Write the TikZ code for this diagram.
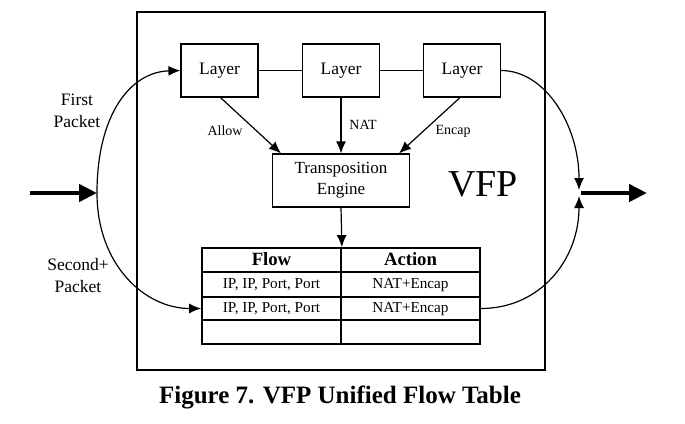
\documentclass[tikz,border=0pt]{standalone}
\usepackage{fontspec}
\setmainfont{Liberation Serif}
\usetikzlibrary{arrows.meta, positioning}

\tikzset{
  >={Latex[length=12pt,width=10pt]},
  layerbox/.style={draw, line width=1.2pt, minimum width=77pt, minimum height=53pt, font=\fontsize{17.5}{20}\selectfont},
  cell/.style={draw, line width=1.8pt, minimum width=139pt, text height=10.5pt, text depth=2.5pt, font=\fontsize{15.2}{17}\selectfont},
  headcell/.style={cell, minimum height=24pt, text height=12.5pt, text depth=2pt, font=\bfseries\fontsize{18.7}{20}\selectfont},
  lbl/.style={font=\fontsize{14}{16}\selectfont},
  bigarrow/.style={line width=4.5pt, -{Triangle[length=18pt,width=17pt]}},
}

\begin{document}
\begin{tikzpicture}[x=1pt, y=-1pt]
  \useasboundingbox (0,0) rectangle (685,423);

  % outer box
  \node[draw, line width=1.4pt, minimum width=408pt, minimum height=358pt] (vfpbox) at (341,191) {};
  \node[font=\fontsize{38}{40}\selectfont] (vfp) at (483,184) {VFP};

  % layers
  \node[layerbox] (layer1) at (219.5,70.5) {Layer};
  \node[layerbox] (layer2) at (341,70.5) {Layer};
  \node[layerbox] (layer3) at (462,70.5) {Layer};
  \node[layerbox, minimum width=137pt, align=center, font=\fontsize{17}{21}\selectfont] (engine) at (341,180.5) {Transposition\\Engine};

  \draw[line width=1.2pt] (layer1.east) -- (layer2.west);
  \draw[line width=1.2pt] (layer2.east) -- (layer3.west);
  \draw[->, line width=1.2pt] ([xshift=1pt]layer1.south) -- ([xshift=-60pt]engine.north);
  \draw[->, line width=1.2pt] (layer2.south) -- (engine.north);
  \draw[->, line width=1.2pt] ([xshift=-2pt]layer3.south) -- ([xshift=58pt]engine.north);

  \node[lbl] (allow) at (225,131) {Allow};
  \node[lbl] (nat) at (363,125) {NAT};
  \node[lbl] (encap) at (453,131) {Encap};

  % flow table
  \node[headcell] (hflow) at (271.5,260) {Flow};
  \node[headcell] (hact) at (410.5,260) {Action};
  \node[cell, minimum height=25pt] (r1flow) at (271.5,284.5) {IP, IP, Port, Port};
  \node[cell, minimum height=25pt] (r1act) at (410.5,284.5) {NAT+Encap};
  \node[cell, minimum height=23pt] (r2flow) at (271.5,308.5) {IP, IP, Port, Port};
  \node[cell, minimum height=23pt] (r2act) at (410.5,308.5) {NAT+Encap};
  \node[cell, minimum height=24pt] (r3flow) at (271.5,332) {};
  \node[cell, minimum height=24pt] (r3act) at (410.5,332) {};

  \draw[->, line width=1.2pt] (engine.south) -- (hflow.north east);

  % packet paths
  \coordinate (split) at (97,193);
  \draw[bigarrow] (30,193) -- (split);
  \draw[bigarrow] (581,193) -- (647,193);

  \draw[->, line width=1.2pt] (split) .. controls (97,115) and (130,72) .. (layer1.west);
  \draw[->, line width=1.2pt] (split) .. controls (97,265) and (145,308.5) .. (r2flow.west);
  \draw[->, line width=1.2pt] (layer3.east) .. controls (545,70.5) and (579,125) .. (579,190);
  \draw[->, line width=1.2pt] (r2act.east) .. controls (540,308.5) and (579,260) .. (579,196);

  \node[align=center, font=\fontsize{17.5}{22}\selectfont] (first) at (77,111) {First\\Packet};
  \node[align=center, font=\fontsize{17.5}{22}\selectfont] (second) at (78,276) {Second+\\Packet};

  % caption
  \node[font=\bfseries\fontsize{25}{28}\selectfont] (caption) at (340,397) {Figure 7. VFP Unified Flow Table};
\end{tikzpicture}
\end{document}
